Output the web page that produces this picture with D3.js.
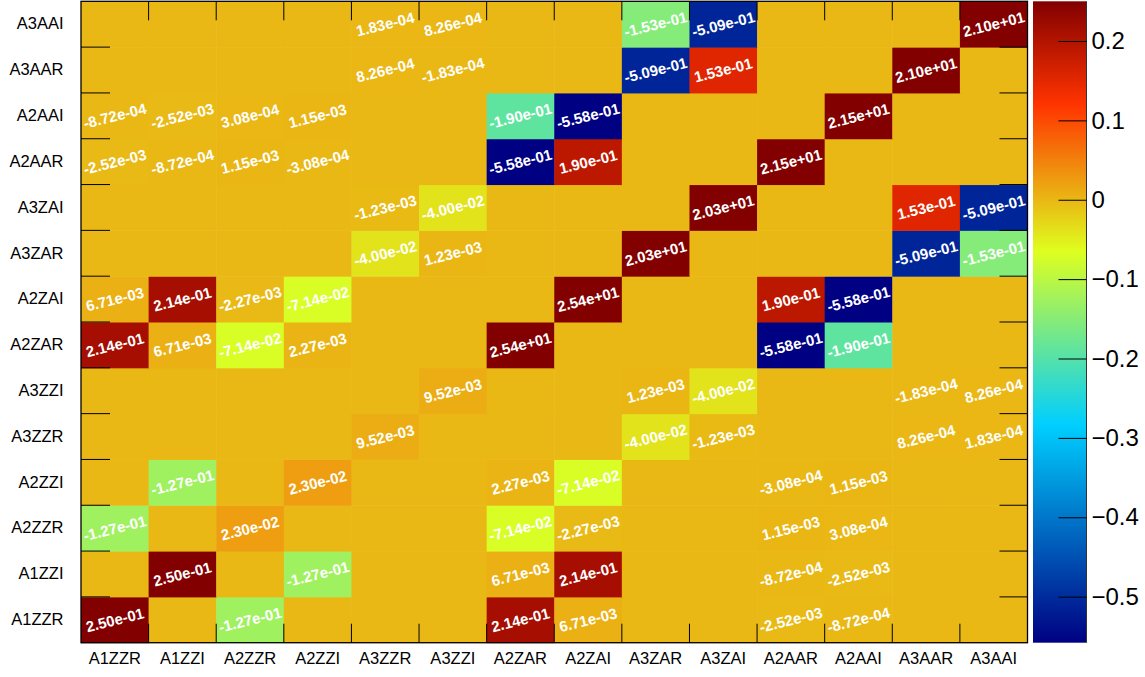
<!DOCTYPE html>
<html>
<head>
<meta charset="utf-8">
<script src="https://cdn.jsdelivr.net/npm/d3@7"></script>
<style>
  body { margin: 0; background: #fff; }
  svg text { font-family: "Liberation Sans", Arial, sans-serif; }
</style>
</head>
<body>
<svg id="Vis" width="1145" height="677"></svg>
<script>
/*
* DATA
*/

// same order on both axes (x left->right, y bottom->top)
const labels = ["A1ZZR", "A1ZZI", "A2ZZR", "A2ZZI", "A3ZZR", "A3ZZI", "A2ZAR",
  "A2ZAI", "A3ZAR", "A3ZAI", "A2AAR", "A2AAI", "A3AAR", "A3AAI"];

// one row per y label, bottom to top; 0 = empty bin
const rowA1ZZR = [0.250, 0, -0.127, 0, 0, 0, 0.214, 6.71e-3, 0, 0, -2.52e-3, -8.72e-4, 0, 0];
const rowA1ZZI = [0, 0.250, 0, -0.127, 0, 0, 6.71e-3, 0.214, 0, 0, -8.72e-4, -2.52e-3, 0, 0];
const rowA2ZZR = [-0.127, 0, 2.30e-2, 0, 0, 0, -7.14e-2, -2.27e-3, 0, 0, 1.15e-3, 3.08e-4, 0, 0];
const rowA2ZZI = [0, -0.127, 0, 2.30e-2, 0, 0, 2.27e-3, -7.14e-2, 0, 0, -3.08e-4, 1.15e-3, 0, 0];
const rowA3ZZR = [0, 0, 0, 0, 9.52e-3, 0, 0, 0, -4.00e-2, -1.23e-3, 0, 0, 8.26e-4, 1.83e-4];
const rowA3ZZI = [0, 0, 0, 0, 0, 9.52e-3, 0, 0, 1.23e-3, -4.00e-2, 0, 0, -1.83e-4, 8.26e-4];
const rowA2ZAR = [0.214, 6.71e-3, -7.14e-2, 2.27e-3, 0, 0, 25.4, 0, 0, 0, -0.558, -0.190, 0, 0];
const rowA2ZAI = [6.71e-3, 0.214, -2.27e-3, -7.14e-2, 0, 0, 0, 25.4, 0, 0, 0.190, -0.558, 0, 0];
const rowA3ZAR = [0, 0, 0, 0, -4.00e-2, 1.23e-3, 0, 0, 20.3, 0, 0, 0, -0.509, -0.153];
const rowA3ZAI = [0, 0, 0, 0, -1.23e-3, -4.00e-2, 0, 0, 0, 20.3, 0, 0, 0.153, -0.509];
const rowA2AAR = [-2.52e-3, -8.72e-4, 1.15e-3, -3.08e-4, 0, 0, -0.558, 0.190, 0, 0, 21.5, 0, 0, 0];
const rowA2AAI = [-8.72e-4, -2.52e-3, 3.08e-4, 1.15e-3, 0, 0, -0.190, -0.558, 0, 0, 0, 21.5, 0, 0];
const rowA3AAR = [0, 0, 0, 0, 8.26e-4, -1.83e-4, 0, 0, -0.509, 0.153, 0, 0, 21.0, 0];
const rowA3AAI = [0, 0, 0, 0, 1.83e-4, 8.26e-4, 0, 0, -0.153, -0.509, 0, 0, 0, 21.0];

const rows = [rowA1ZZR, rowA1ZZI, rowA2ZZR, rowA2ZZI, rowA3ZZR, rowA3ZZI, rowA2ZAR,
  rowA2ZAI, rowA3ZAR, rowA3ZAI, rowA2AAR, rowA2AAI, rowA3AAR, rowA3AAI];

// z range of the palette
const zRange = [-0.558, 0.25];
const zTicks = [-0.5, -0.4, -0.3, -0.2, -0.1, 0, 0.1, 0.2];

// palette stops (fraction of z range) and colours
const paletteStops = [0.00, 0.34, 0.61, 0.84, 1.00];
const paletteColors = ["rgb(0,0,130)", "rgb(0,207,255)", "rgb(222,255,31)", "rgb(255,51,0)", "rgb(130,0,0)"];


/*
* SETUP
*/

const svg = d3.select("svg#Vis");

const frame = { left: 81, right: 1027.5, top: 1.3, bottom: 642.7 };
const bar = { left: 1033, right: 1086.5 };

const x = d3.scaleBand().domain(labels).range([frame.left, frame.right]);
const y = d3.scaleBand().domain(labels).range([frame.bottom, frame.top]);

const frac = d3.scaleLinear().domain(zRange).range([0, 1]).clamp(true);
const palette = d3.scaleLinear().domain(paletteStops).range(paletteColors)
  .interpolate(d3.interpolateRgb);
const color = v => palette(frac(v));

const z = d3.scaleLinear().domain(zRange).range([frame.bottom, frame.top]);

// ROOT style %.2e, two digit exponent
function fmt(v) {
  const s = v.toExponential(2);
  const m = s.match(/^(.*)e([+-])(\d+)$/);
  return m[1] + "e" + m[2] + m[3].padStart(2, "0");
}

let cells = [];
rows.forEach(function(row, j) {
  row.forEach(function(v, i) {
    cells.push({ xl: labels[i], yl: labels[j], v: v });
  });
});


/*
* CELLS
*/

svg.append("g").attr("id", "cells")
  .selectAll("rect")
  .data(cells)
  .join("rect")
    .attr("x", d => x(d.xl))
    .attr("y", d => y(d.yl))
    .attr("width", x.bandwidth() + 0.5)
    .attr("height", y.bandwidth() + 0.5)
    .attr("fill", d => color(d.v));

svg.append("g").attr("id", "values")
  .selectAll("text")
  .data(cells.filter(d => d.v !== 0))
  .join("text")
    .attr("transform", d => "translate(" + (x(d.xl) + x.bandwidth() / 2) + "," +
      (y(d.yl) + y.bandwidth() / 2) + ") rotate(-14)")
    .attr("text-anchor", "middle")
    .attr("dy", "0.36em")
    .attr("fill", "#fff")
    .style("font-size", "15px")
    .style("font-weight", "bold")
    .text(d => fmt(d.v));


/*
* AXES
*/

const xAxis = svg.append("g")
  .attr("transform", "translate(0," + frame.bottom + ")")
  .call(d3.axisBottom(x).tickSize(0).tickPadding(10));
xAxis.select(".domain").remove();
xAxis.selectAll("text").style("font-size", "16.5px").attr("fill", "#000");

const yAxis = svg.append("g")
  .attr("transform", "translate(" + (frame.left - 17.5) + ",0)")
  .call(d3.axisLeft(y).tickSize(0).tickPadding(0));
yAxis.select(".domain").remove();
yAxis.selectAll("text").style("font-size", "16.5px").attr("fill", "#000");

// tick marks on the bin edges, all four sides
const edges = d3.range(1, labels.length);
const ticks = svg.append("g").attr("stroke", "#000").attr("stroke-width", 1);
edges.forEach(function(k) {
  const xe = frame.left + k * x.step();
  const ye = frame.bottom - k * y.step();
  ticks.append("line").attr("x1", xe).attr("x2", xe).attr("y1", frame.bottom).attr("y2", frame.bottom - 19);
  ticks.append("line").attr("x1", xe).attr("x2", xe).attr("y1", frame.top).attr("y2", frame.top + 19);
  ticks.append("line").attr("x1", frame.left).attr("x2", frame.left + 29).attr("y1", ye).attr("y2", ye);
  ticks.append("line").attr("x1", frame.right).attr("x2", frame.right - 28).attr("y1", ye).attr("y2", ye);
});

svg.append("rect")
  .attr("x", frame.left).attr("y", frame.top)
  .attr("width", frame.right - frame.left).attr("height", frame.bottom - frame.top)
  .attr("fill", "none").attr("stroke", "#000").attr("stroke-width", 1.3);


/*
* PALETTE
*/

const grad = svg.append("defs").append("linearGradient")
  .attr("id", "pal")
  .attr("x1", 0).attr("x2", 0).attr("y1", 1).attr("y2", 0);
grad.selectAll("stop")
  .data(paletteStops)
  .join("stop")
    .attr("offset", d => d)
    .attr("stop-color", (d, i) => paletteColors[i]);

svg.append("rect")
  .attr("x", bar.left).attr("y", frame.top)
  .attr("width", bar.right - bar.left).attr("height", frame.bottom - frame.top)
  .attr("fill", "url(#pal)");

const zAxis = svg.append("g")
  .attr("transform", "translate(" + bar.right + ",0)")
  .call(d3.axisRight(z).tickValues(zTicks).tickSize(-28).tickPadding(5)
    .tickFormat(d3.format("")));
zAxis.select(".domain").attr("d", "M0," + frame.top + "V" + frame.bottom)
  .attr("stroke", "#333");
zAxis.selectAll(".tick line").attr("stroke", "#000");
zAxis.selectAll("text").style("font-size", "24px").attr("fill", "#000");
</script>
</body>
</html>
